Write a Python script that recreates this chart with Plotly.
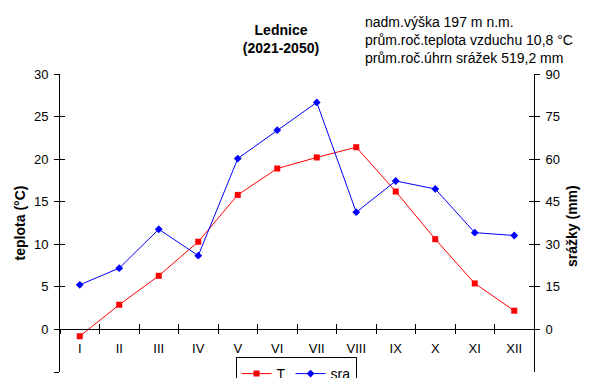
import plotly.graph_objects as go

months = ["I", "II", "III", "IV", "V", "VI", "VII", "VIII", "IX", "X", "XI", "XII"]
teplota = [-0.8, 2.9, 6.3, 10.3, 15.8, 18.9, 20.2, 21.4, 16.2, 10.6, 5.4, 2.2]
srazky = [15.7, 21.6, 35.3, 26.0, 60.2, 70.2, 80.0, 41.3, 52.3, 49.5, 34.1, 33.1]

t_range = [-5, 30]
t_ticks = [-5, 0, 5, 10, 15, 20, 25, 30]
s_range = [-15, 90]
s_ticks = [0, 15, 30, 45, 60, 75, 90]

title_text = "<b>Lednice</b><br><b>(2021-2050)</b>"
info_lines = ["nadm.výška 197 m n.m.",
              "prům.roč.teplota vzduchu 10,8 °C",
              "prům.roč.úhrn srážek 519,2 mm"]
right_title = "<b>srážky (mm)</b>"

FONT = "Liberation Sans, Arial, sans-serif"
# page body has an 8px margin, so the figure is 8px smaller than the window
W, H = 581, 370
ML, MR, MT, MB = 52, 55, 66, 6
plot_w = W - ML - MR
plot_h = H - MT - MB
zero_pos = (0 - t_range[0]) / (t_range[1] - t_range[0])

fig = go.Figure()
fig.add_trace(go.Scatter(
    x=months, y=teplota, name="T", mode="lines+markers",
    line=dict(color="#FF0000", width=1),
    marker=dict(symbol="square", size=6, color="#FF0000"),
    xaxis="x", yaxis="y"))
fig.add_trace(go.Scatter(
    x=months, y=srazky, name="sra", mode="lines+markers",
    line=dict(color="#0000FF", width=1),
    marker=dict(symbol="diamond", size=6, color="#0000FF"),
    xaxis="x", yaxis="y2"))
# invisible helper traces so that the helper axes (cross ticks) are drawn
for xa, ya, yy in [("x3", "y", teplota), ("x", "y3", teplota), ("x", "y5", srazky)]:
    fig.add_trace(go.Scatter(x=months, y=yy, mode="none", showlegend=False,
                             hoverinfo="skip", xaxis=xa, yaxis=ya))

axis_common = dict(showgrid=False, zeroline=False, color="black",
                   tickfont=dict(family=FONT, size=13, color="black"))
helper = dict(showticklabels=False, showline=False, showgrid=False, zeroline=False,
              tickcolor="black")

fig.update_layout(
    width=W, height=H,
    margin=dict(l=ML, r=MR, t=MT, b=MB, autoexpand=False),
    paper_bgcolor="white", plot_bgcolor="white",
    font=dict(family=FONT, size=13, color="black"),
    title=dict(text=title_text, x=(281 - 8) / W, xanchor="center", xref="container",
               y=1 - 27 / H, yanchor="top", yref="container",
               font=dict(family=FONT, size=14, color="black")),
    xaxis=dict(type="category", categoryorder="array", categoryarray=months,
               range=[-0.5, len(months) - 0.5], tickson="boundaries",
               ticks="outside", ticklen=4, tickcolor="black",
               showline=True, linecolor="black", linewidth=1,
               anchor="free", position=zero_pos, ticklabelstandoff=7,
               **axis_common),
    xaxis3=dict(type="category", categoryorder="array", categoryarray=months,
                range=[-0.5, len(months) - 0.5], tickson="boundaries",
                overlaying="x", anchor="free", position=zero_pos,
                ticks="inside", ticklen=5, **helper),
    yaxis=dict(range=t_range, tickvals=t_ticks, ticks="outside", ticklen=5,
               tickcolor="black", showline=True, linecolor="black", linewidth=1,
               ticklabelstandoff=3,
               title=dict(text="<b>teplota (°C)</b>", standoff=5,
                          font=dict(family=FONT, size=14, color="black")),
               **axis_common),
    yaxis3=dict(range=t_range, tickvals=t_ticks, overlaying="y", side="left",
                ticks="inside", ticklen=5, **helper),
    yaxis2=dict(range=s_range, tickvals=s_ticks, overlaying="y", side="right",
                ticks="outside", ticklen=5, tickcolor="black",
                showline=True, linecolor="black", linewidth=1, ticklabelstandoff=3,
                **axis_common),
    yaxis5=dict(range=s_range, tickvals=s_ticks, overlaying="y", side="right",
                ticks="inside", ticklen=5, **helper),
    legend=dict(orientation="h", x=0.498, xanchor="center",
                y=(H - MB - (357 - 8)) / plot_h, yanchor="top",
                bgcolor="white", bordercolor="black", borderwidth=1,
                font=dict(family=FONT, size=14, color="black")),
    showlegend=True,
    annotations=[
        dict(text="<br>".join(info_lines), xref="paper", yref="paper",
             x=(355 - ML) / plot_w, xanchor="left",
             y=1 + (MT - 4) / plot_h, yanchor="top", align="left",
             showarrow=False,
             font=dict(family=FONT, size=14, color="black")),
        dict(text=right_title, xref="paper", yref="paper",
             x=(572 - 8 - ML) / plot_w, xanchor="center",
             y=0.49, yanchor="middle", textangle=-90, showarrow=False,
             font=dict(family=FONT, size=14, color="black")),
    ],
)

fig.write_html("out.html")
